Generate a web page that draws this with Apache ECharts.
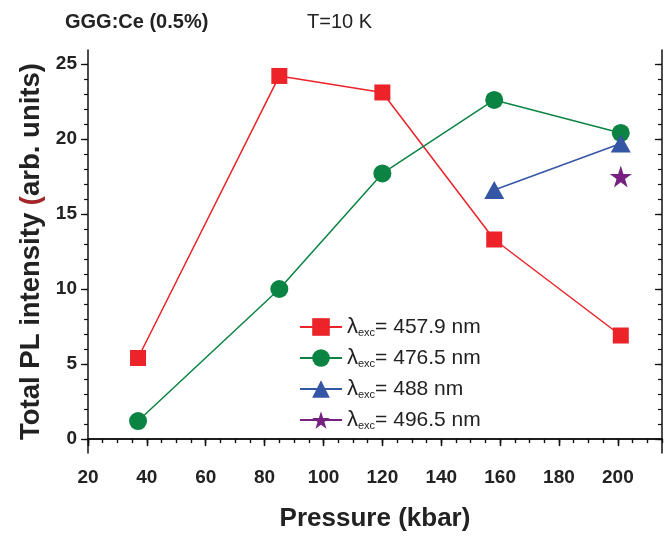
<!DOCTYPE html>
<html>
<head>
<meta charset="utf-8">
<script src="https://cdn.jsdelivr.net/npm/echarts@6/dist/echarts.min.js"></script>
<style>
  html, body { margin: 0; padding: 0; background: #fff; }
  #chart { width: 668px; height: 537px; }
</style>
</head>
<body>
<div id="chart"></div>
<script>
// data
const pressure = [37, 85, 120, 158, 201]
const int4579 = [5.4, 24.2, 23.1, 13.3, 6.9]
const int4765 = [1.2, 10.0, 17.7, 22.6, 20.4]
const pressure488 = [158, 201]
const int488 = [16.6, 19.7]
const pressure4965 = [201]
const int4965 = [17.5]

const xMajor = [20, 40, 60, 80, 100, 120, 140, 160, 180, 200]
const xMinor = Array.from({ length: 40 }, (_, i) => 20 + i * 5)
const yMajor = [0, 5, 10, 15, 20, 25]
const yMinor = Array.from({ length: 27 }, (_, i) => i)

const names = ['457.9 nm', '476.5 nm', '488 nm', '496.5 nm']
const FONT = 'Liberation Sans, Arial, sans-serif'
const STAR = 'path://M50,0 L61.8,35.5 L99,35.5 L69,57.5 L80.5,93 L50,71 L19.5,93 L31,57.5 L1,35.5 L38.2,35.5 Z'

const zip = (xs, ys) => xs.map((x, i) => [x, ys[i]])

const chart = echarts.init(document.getElementById('chart'))

const baseX = {
  type: 'value', min: 20, max: 215,
  splitLine: { show: false }
}
const baseY = {
  type: 'value', min: -0.93, max: 25.93,
  splitLine: { show: false }
}
const axisLine = { show: true, lineStyle: { color: '#111', width: 1.5 } }

function mkSeries(name, data, color, symbol, size) {
  return {
    name: name,
    type: 'line',
    data: data,
    symbol: symbol,
    symbolSize: size,
    showSymbol: true,
    lineStyle: { color: color, width: 1.5 },
    itemStyle: { color: color },
    z: 5
  }
}

chart.setOption({
  backgroundColor: '#fff',
  animation: false,
  title: [{
    text: 'GGG:Ce (0.5%)',
    left: 60, top: 7,
    textStyle: { fontFamily: FONT, fontWeight: 'bold', fontSize: 20, color: '#222' }
  }, {
    text: 'T=10 K',
    left: 302, top: 7,
    textStyle: { fontFamily: FONT, fontWeight: 'normal', fontSize: 20, color: '#222' }
  }],
  grid: { left: 88, top: 50, right: 6, bottom: 83, containLabel: false },
  legend: {
    orient: 'vertical',
    left: 294, top: 309,
    itemWidth: 42, itemHeight: 22, itemGap: 7,
    data: names,
    formatter: function (name) {
      return '{l|λ}{s|exc}{t|= ' + name + '}'
    },
    textStyle: {
      fontFamily: FONT, color: '#222',
      rich: {
        l: { fontSize: 22, fontFamily: FONT, color: '#222', lineHeight: 22, verticalAlign: 'middle' },
        s: { fontSize: 11, fontFamily: FONT, color: '#222', padding: [13, 0, 0, 0], lineHeight: 22, verticalAlign: 'bottom' },
        t: { fontSize: 21, fontFamily: FONT, color: '#222', lineHeight: 22, verticalAlign: 'middle' }
      }
    }
  },
  xAxis: [
    Object.assign({}, baseX, {
      position: 'bottom',
      name: 'Pressure (kbar)',
      nameLocation: 'middle',
      nameGap: 53,
      nameTextStyle: { fontFamily: FONT, fontWeight: 'bold', fontSize: 26, color: '#222' },
      axisLine: axisLine,
      axisTick: { show: true, inside: false, length: 7, customValues: xMajor, lineStyle: { color: '#111', width: 1.3 } },
      axisLabel: { show: true, margin: 15, customValues: xMajor, fontFamily: FONT, fontWeight: 'bold', fontSize: 19, color: '#222' }
    }),
    Object.assign({}, baseX, {
      position: 'bottom',
      axisLine: { show: false },
      axisTick: { show: true, inside: false, length: 4, customValues: xMinor, lineStyle: { color: '#111', width: 1.2 } },
      axisLabel: { show: false }
    }),
    Object.assign({}, baseX, {
      position: 'top',
      axisLine: axisLine,
      axisTick: { show: true, inside: true, length: 7, customValues: xMajor, lineStyle: { color: '#111', width: 1.3 } },
      axisLabel: { show: false }
    }),
    Object.assign({}, baseX, {
      position: 'top',
      axisLine: { show: false },
      axisTick: { show: true, inside: true, length: 4, customValues: xMinor, lineStyle: { color: '#111', width: 1.2 } },
      axisLabel: { show: false }
    })
  ],
  yAxis: [
    Object.assign({}, baseY, {
      position: 'left',
      name: '{a|Total PL intensity }{b|(}{a|arb. units)}',
      nameLocation: 'middle',
      nameGap: 42,
      nameRotate: 90,
      nameTextStyle: {
        rich: {
          a: { fontFamily: FONT, fontWeight: 'bold', fontSize: 27.5, color: '#222' },
          b: { fontFamily: FONT, fontWeight: 'bold', fontSize: 27.5, color: '#a2262a' }
        }
      },
      axisLine: axisLine,
      axisTick: { show: true, inside: false, length: 7, customValues: yMajor, lineStyle: { color: '#111', width: 1.3 } },
      axisLabel: { show: true, margin: 11, customValues: yMajor, fontFamily: FONT, fontWeight: 'bold', fontSize: 19, color: '#222' }
    }),
    Object.assign({}, baseY, {
      position: 'left',
      axisLine: { show: false },
      axisTick: { show: true, inside: false, length: 4, customValues: yMinor, lineStyle: { color: '#111', width: 1.2 } },
      axisLabel: { show: false }
    }),
    Object.assign({}, baseY, {
      position: 'right',
      axisLine: axisLine,
      axisTick: { show: true, inside: true, length: 7, customValues: yMajor, lineStyle: { color: '#111', width: 1.3 } },
      axisLabel: { show: false }
    }),
    Object.assign({}, baseY, {
      position: 'right',
      axisLine: { show: false },
      axisTick: { show: true, inside: true, length: 4, customValues: yMinor, lineStyle: { color: '#111', width: 1.2 } },
      axisLabel: { show: false }
    })
  ],
  series: [
    mkSeries(names[0], zip(pressure, int4579), '#ec2329', 'rect', 16),
    mkSeries(names[1], zip(pressure, int4765), '#0b8443', 'circle', 18),
    mkSeries(names[2], zip(pressure488, int488), '#3555a5', 'triangle', [20, 18]),
    mkSeries(names[3], zip(pressure4965, int4965), '#762180', STAR, 22)
  ]
})
</script>
</body>
</html>
